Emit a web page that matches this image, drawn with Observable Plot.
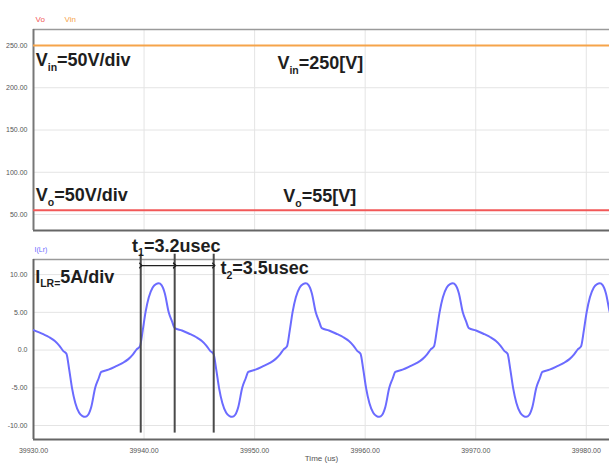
<!DOCTYPE html>
<html><head><meta charset="utf-8">
<script src="https://cdn.jsdelivr.net/npm/d3@7"></script>
<script src="https://cdn.jsdelivr.net/npm/@observablehq/plot@0.6"></script>
<style>
body{margin:0;background:#fff;font-family:"Liberation Sans",Arial,sans-serif;}
#chart svg{display:block;}
</style></head><body><div id="chart"></div>
<script>
// ---- data ----
const timeDomain = [39930, 39982.1];          // us
const timeTicks = [39930, 39940, 39950, 39960, 39970, 39980];
const voltDomain = [31.1, 268.9];
const voltTicks = [50, 100, 150, 200, 250];
const currDomain = [-11.85, 12];
const currTicks = [-10, -5, 0, 5, 10];
const vinLevel = 250;   // Vin [V]
const voLevel = 55;     // Vo [V]

const timeUs = [
 39930.00,39930.88,39931.43,39931.93,39932.33,39932.68,39932.98,
 39933.23,39933.48,39933.78,39934.13,39934.43,39934.68,39934.93,39935.23,39935.58,39935.88,39936.13,
 39936.78,39937.53,39938.08,39938.58,39938.98,39939.33,39939.63,
 39939.88,39940.13,39940.43,39940.78,39941.08,39941.33,39941.58,39941.88,39942.23,39942.53,39942.78,
 39943.43,39944.18,39944.73,39945.23,39945.63,39945.98,39946.28,
 39946.53,39946.78,39947.08,39947.43,39947.73,39947.98,39948.23,39948.53,39948.88,39949.18,39949.43,
 39950.08,39950.83,39951.38,39951.88,39952.28,39952.63,39952.93,
 39953.18,39953.43,39953.73,39954.08,39954.38,39954.63,39954.88,39955.18,39955.53,39955.83,39956.08,
 39956.73,39957.48,39958.03,39958.53,39958.93,39959.28,39959.58,
 39959.83,39960.08,39960.38,39960.73,39961.03,39961.28,39961.53,39961.83,39962.18,39962.48,39962.73,
 39963.38,39964.13,39964.68,39965.18,39965.58,39965.93,39966.23,
 39966.48,39966.73,39967.03,39967.38,39967.68,39967.93,39968.18,39968.48,39968.83,39969.13,39969.38,
 39970.03,39970.78,39971.33,39971.83,39972.23,39972.58,39972.88,
 39973.13,39973.38,39973.68,39974.03,39974.33,39974.58,39974.83,39975.13,39975.48,39975.78,39976.03,
 39976.68,39977.43,39977.98,39978.48,39978.88,39979.23,39979.53,
 39979.78,39980.03,39980.33,39980.68,39980.98,39981.23,39981.48,39981.78,39982.13,39982.43
];
const iLr = [
 2.65,2.1,1.7,1.2,0.6,-0.1,-0.5,
 -2.6,-5.0,-7.0,-8.3,-8.75,-8.85,-8.6,-7.5,-5.0,-3.8,-2.9,
 -2.6,-2.1,-1.7,-1.2,-0.6,0.1,0.5,
 2.6,5.0,7.0,8.3,8.75,8.85,8.6,7.5,5.0,3.8,2.9,
 2.6,2.1,1.7,1.2,0.6,-0.1,-0.5,
 -2.6,-5.0,-7.0,-8.3,-8.75,-8.85,-8.6,-7.5,-5.0,-3.8,-2.9,
 -2.6,-2.1,-1.7,-1.2,-0.6,0.1,0.5,
 2.6,5.0,7.0,8.3,8.75,8.85,8.6,7.5,5.0,3.8,2.9,
 2.6,2.1,1.7,1.2,0.6,-0.1,-0.5,
 -2.6,-5.0,-7.0,-8.3,-8.75,-8.85,-8.6,-7.5,-5.0,-3.8,-2.9,
 -2.6,-2.1,-1.7,-1.2,-0.6,0.1,0.5,
 2.6,5.0,7.0,8.3,8.75,8.85,8.6,7.5,5.0,3.8,2.9,
 2.6,2.1,1.7,1.2,0.6,-0.1,-0.5,
 -2.6,-5.0,-7.0,-8.3,-8.75,-8.85,-8.6,-7.5,-5.0,-3.8,-2.9,
 -2.6,-2.1,-1.7,-1.2,-0.6,0.1,0.5,
 2.6,5.0,7.0,8.3,8.75,8.85,8.6,7.5,5.0,3.8
];
const cursorTimes = [39939.70, 39942.77, 39946.30];

// annotation labels (text, anchor time, anchor value)
const voltNotes = [
  {text: "V_{in}=50V/div", t: 39930.2, v: 232},
  {text: "V_{in}=250[V]", t: 39952.06, v: 228.5},
  {text: "V_{o}=50V/div", t: 39930.2, v: 72.5},
  {text: "V_{o}=55[V]", t: 39952.6, v: 71.3}
];
const currNotes = [
  {text: "I_{LR=}5A/div", t: 39930.15, v: 9.7},
  {text: "t_{1}=3.2usec", t: 39938.92, v: 13.8},
  {text: "t_{2}=3.5usec", t: 39946.91, v: 10.8}
];

// ---- styles ----
const FONT = '"Liberation Sans", Arial, sans-serif';
const C_VIN = "#f6a44a", C_VO = "#f25858", C_I = "#6b6bff";
const GRID = "#e4e4e4", TEXT = "#1e1e1e", TICK = "#555";
const fmt = d => d === 0 ? "0.0" : d.toFixed(2);

const waveData = timeUs.map((t, i) => ({t, i: iLr[i]}));
const arrowSegs = cursorTimes.slice(1).map((b, k) => ({a: cursorTimes[k], b}));

const noteText = (data) => Plot.text(data, {
  x: "t", y: "v", text: "text", textAnchor: "start", fontSize: 18, fontWeight: "bold",
  fill: TEXT, fontFamily: FONT, clip: false
});

const topPanel = Plot.plot({
  width: 609, height: 232, marginLeft: 33, marginRight: 0, marginTop: 29, marginBottom: 2,
  style: {fontFamily: FONT, background: "white"},
  x: {domain: timeDomain, axis: null},
  y: {domain: voltDomain, axis: null},
  marks: [
    Plot.ruleX(timeTicks, {stroke: GRID}),
    Plot.ruleY(voltTicks, {stroke: GRID}),
    Plot.ruleY([voltDomain[1]], {stroke: "#9a9a9a", strokeWidth: 1.5}),
    Plot.ruleY([voltDomain[0]], {stroke: "#666", strokeWidth: 2}),
    Plot.ruleX([timeDomain[0]], {stroke: "#777", strokeWidth: 2}),
    Plot.ruleY([vinLevel], {stroke: C_VIN, strokeWidth: 2}),
    Plot.ruleY([voLevel], {stroke: C_VO, strokeWidth: 2}),
    Plot.axisY(voltTicks, {tickSize: 0, tickPadding: 6, tickFormat: fmt, fontSize: 7, fill: TICK, label: null}),
    Plot.text(["Vo"], {frameAnchor: "top-left", textAnchor: "start", dx: 2, dy: -13, fill: C_VO, fontSize: 8}),
    Plot.text(["Vin"], {frameAnchor: "top-left", textAnchor: "start", dx: 31, dy: -13, fill: C_VIN, fontSize: 8}),
    noteText(voltNotes)
  ]
});

const bottomPanel = Plot.plot({
  width: 609, height: 232, marginLeft: 33, marginRight: 0, marginTop: 27, marginBottom: 25,
  style: {fontFamily: FONT, background: "white", overflow: "visible"},
  x: {domain: timeDomain, axis: null},
  y: {domain: currDomain, axis: null},
  marks: [
    Plot.ruleX(timeTicks, {stroke: GRID}),
    Plot.ruleY(currTicks, {stroke: GRID}),
    Plot.ruleY([currDomain[1]], {stroke: "#9a9a9a", strokeWidth: 1.5}),
    Plot.ruleY([currDomain[0]], {stroke: "#666", strokeWidth: 2}),
    Plot.ruleX([timeDomain[0]], {stroke: "#666", strokeWidth: 2}),
    Plot.axisY(currTicks, {tickSize: 0, tickPadding: 6, tickFormat: fmt, fontSize: 7, fill: TICK, label: null}),
    Plot.axisX(timeTicks, {tickSize: 0, tickPadding: 9, tickFormat: fmt, fontSize: 7, fill: TICK, label: null}),
    Plot.text(["Time (us)"], {frameAnchor: "bottom", lineAnchor: "top", dy: 16, fontSize: 8, fill: TICK}),
    Plot.text(["I(Lr)"], {frameAnchor: "top-left", textAnchor: "start", dx: 1, dy: -12, fill: C_I, fontSize: 7}),
    Plot.line(waveData, {x: "t", y: "i", stroke: C_I, strokeWidth: 2, curve: "monotone-x", clip: true}),
    Plot.ruleX(cursorTimes, {y1: -11, y2: 12.7, stroke: "#4a4a4a", strokeWidth: 2, clip: false}),
    Plot.link(arrowSegs, {x1: "a", x2: "b", y1: 11.2, y2: 11.2, stroke: "#222", strokeWidth: 1.2,
      markerStart: "arrow", markerEnd: "arrow", clip: false}),
    noteText(currNotes)
  ]
});

function subscriptify(svg) {
  svg.querySelectorAll("text").forEach(node => {
    const s = node.textContent;
    if (!s.includes("_{")) return;
    node.textContent = "";
    const parts = s.split(/(_\{[^}]*\})/).filter(p => p.length);
    let shifted = false;
    parts.forEach(p => {
      const ts = document.createElementNS("http://www.w3.org/2000/svg", "tspan");
      if (p.startsWith("_{")) {
        ts.textContent = p.slice(2, -1);
        ts.setAttribute("font-size", "10.5");
        ts.setAttribute("dy", "4.5");
        shifted = true;
      } else {
        ts.textContent = p;
        if (shifted) { ts.setAttribute("dy", "-4.5"); shifted = false; }
      }
      node.appendChild(ts);
    });
  });
}
subscriptify(topPanel);
subscriptify(bottomPanel);
document.getElementById("chart").append(topPanel, bottomPanel);
</script></body></html>
